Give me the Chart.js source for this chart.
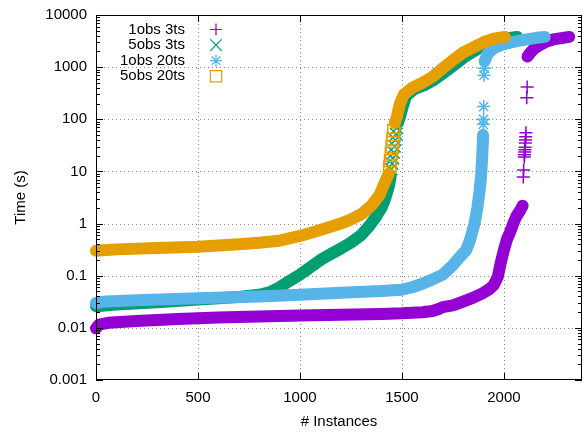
<!DOCTYPE html>
<html>
<head>
<meta charset="utf-8">
<script src="https://cdn.jsdelivr.net/npm/chart.js@4/dist/chart.umd.min.js"></script>
<style>
  body { margin: 0; background: #fff; }
  canvas { display: block; }
</style>
</head>
<body>
<canvas id="timeChart" width="584" height="433"></canvas>
<script>
// tick values and labels
const xTickValues = [0, 500, 1000, 1500, 2000];
const yTickValues = [0.001, 0.01, 0.1, 1, 10, 100, 1000, 10000];
const yTickLabels = ["0.001", "0.01", "0.1", "1", "10", "100", "1000", "10000"];
const seriesNames = ["1obs 3ts", "5obs 3ts", "1obs 20ts", "5obs 20ts"];

// 1obs 3ts (sorted runtimes)
const obs1ts3LowX = [0, 15, 60, 200, 400, 600, 800, 1000, 1200, 1400, 1500, 1600, 1650, 1680, 1700, 1750, 1800, 1850, 1900, 1930, 1950, 1970, 1985, 2000, 2015, 2030, 2045, 2060, 2080, 2092];
const obs1ts3LowY = [0.0098, 0.0115, 0.0125, 0.0135, 0.0148, 0.0158, 0.0165, 0.0172, 0.0178, 0.0185, 0.019, 0.020, 0.021, 0.023, 0.025, 0.027, 0.032, 0.038, 0.047, 0.056, 0.066, 0.095, 0.18, 0.31, 0.5, 0.68, 0.98, 1.35, 1.8, 2.2];
const obs1ts3PtX = [2095, 2097, 2100, 2101, 2102, 2103, 2104, 2105, 2106, 2107, 2108, 2112, 2114];
const obs1ts3PtY = [7.8, 10.7, 19, 21, 23.5, 26, 29, 35, 40, 46, 55, 260, 415];
const obs1ts3HiX = [2116, 2130, 2150, 2180, 2210, 2250, 2290, 2320];
const obs1ts3HiY = [1600, 1900, 2300, 2700, 3100, 3450, 3650, 3800];

// 5obs 3ts
const obs5ts3LowX = [0, 100, 300, 500, 700, 800, 850, 900, 950, 1000, 1050, 1100, 1150, 1200, 1250, 1300, 1340, 1370, 1400, 1420, 1435, 1445];
const obs5ts3LowY = [0.026, 0.028, 0.031, 0.035, 0.039, 0.043, 0.048, 0.06, 0.08, 0.105, 0.145, 0.2, 0.26, 0.33, 0.43, 0.6, 0.9, 1.3, 2.0, 3.2, 5, 8];
const obs5ts3PtX = [1448, 1452, 1456, 1460, 1464, 1468, 1472, 1476];
const obs5ts3PtY = [11, 14, 18, 23, 30, 40, 52, 68];
const obs5ts3HiX = [1480, 1490, 1505, 1520, 1560, 1610, 1660, 1700, 1750, 1800, 1850, 1900, 1950, 2000, 2065];
const obs5ts3HiY = [85, 110, 180, 280, 380, 450, 580, 750, 1050, 1500, 2000, 2600, 3100, 3500, 3800];

// 1obs 20ts
const obs1ts20LowX = [0, 50, 200, 500, 800, 1000, 1200, 1400, 1500, 1550, 1600, 1650, 1700, 1750, 1780, 1815, 1835, 1856, 1870, 1880, 1888, 1894, 1898];
const obs1ts20LowY = [0.030, 0.032, 0.034, 0.037, 0.040, 0.043, 0.047, 0.051, 0.054, 0.06, 0.07, 0.085, 0.105, 0.16, 0.22, 0.31, 0.5, 1.0, 2.0, 4.0, 8, 20, 50];
const obs1ts20PtX = [1899, 1900, 1901, 1903, 1904];
const obs1ts20PtY = [80, 100, 175, 700, 950];
const obs1ts20HiX = [1906, 1920, 1950, 1980, 2020, 2070, 2120, 2160, 2200];
const obs1ts20HiY = [1300, 1800, 2300, 2600, 2900, 3200, 3450, 3650, 3800];

// 5obs 20ts
const obs5ts20LowX = [0, 100, 300, 500, 700, 800, 900, 1000, 1100, 1200, 1250, 1300, 1350, 1390, 1415, 1435];
const obs5ts20LowY = [0.30, 0.32, 0.34, 0.36, 0.40, 0.43, 0.47, 0.58, 0.75, 1.0, 1.2, 1.5, 2.2, 3.5, 6, 9];
const obs5ts20PtX = [1440, 1444, 1448, 1452, 1456, 1460];
const obs5ts20PtY = [12, 16, 22, 30, 42, 60];
const obs5ts20HiX = [1465, 1475, 1490, 1510, 1550, 1600, 1650, 1700, 1750, 1800, 1850, 1900, 1950, 2005];
const obs5ts20HiY = [85, 110, 200, 300, 400, 500, 650, 950, 1350, 1900, 2400, 3000, 3500, 3800];

const colors = ["#9400d3", "#009e73", "#56b4e9", "#e69f00"];
const pointStyles = ["cross", "crossRot", "star", "rect"];
const pointRadii = [6.5, 8.5, 6.5, 8.5];

function pairs(xs, ys) {
  return xs.map((x, i) => ({ x: x, y: ys[i] }));
}

function band(xs, ys, idx, order) {
  return {
    data: pairs(xs, ys),
    showLine: true,
    borderColor: colors[idx],
    borderWidth: 12,
    borderJoinStyle: "round",
    borderCapStyle: "round",
    pointRadius: 0,
    clip: false,
    order: order
  };
}

function marks(xs, ys, idx, order) {
  return {
    data: pairs(xs, ys),
    showLine: false,
    pointStyle: pointStyles[idx],
    pointRadius: pointRadii[idx],
    pointBorderWidth: 1.5,
    pointBorderColor: colors[idx],
    pointBackgroundColor: "rgba(0,0,0,0)",
    clip: false,
    order: order
  };
}

const datasets = [
  band(obs1ts3LowX, obs1ts3LowY, 0, 12),
  marks(obs1ts3PtX, obs1ts3PtY, 0, 11),
  band(obs1ts3HiX, obs1ts3HiY, 0, 10),
  band(obs5ts3LowX, obs5ts3LowY, 1, 9),
  marks(obs5ts3PtX, obs5ts3PtY, 1, 8),
  band(obs5ts3HiX, obs5ts3HiY, 1, 7),
  band(obs1ts20LowX, obs1ts20LowY, 2, 6),
  marks(obs1ts20PtX, obs1ts20PtY, 2, 5),
  band(obs1ts20HiX, obs1ts20HiY, 2, 4),
  band(obs5ts20LowX, obs5ts20LowY, 3, 3),
  marks(obs5ts20PtX, obs5ts20PtY, 3, 2),
  band(obs5ts20HiX, obs5ts20HiY, 3, 1)
];

// gnuplot style dotted grid (slid under the data), border and inward tics
const frame = {
  id: "frame",
  afterDatasetsDraw(chart) {
    const ctx = chart.ctx;
    const a = chart.chartArea;
    const x = chart.scales.x, y = chart.scales.y;

    ctx.save();
    ctx.globalCompositeOperation = "destination-over";
    ctx.fillStyle = "#888888";
    xTickValues.slice(1).forEach(v => {
      const px = Math.round(x.getPixelForValue(v));
      for (let py = Math.round(a.bottom) - 4; py > a.top + 1; py -= 4) ctx.fillRect(px, py, 1, 1);
    });
    yTickValues.slice(1, -1).forEach(v => {
      const py = Math.round(y.getPixelForValue(v));
      for (let px = Math.round(a.left) + 4; px < a.right - 1; px += 4) ctx.fillRect(px, py, 1, 1);
    });
    ctx.restore();

    ctx.save();
    ctx.strokeStyle = "#000";
    ctx.lineWidth = 1;
    ctx.beginPath();
    xTickValues.forEach(v => {
      const px = Math.round(x.getPixelForValue(v)) + 0.5;
      ctx.moveTo(px, a.bottom); ctx.lineTo(px, a.bottom - 7);
      ctx.moveTo(px, a.top); ctx.lineTo(px, a.top + 7);
    });
    yTickValues.forEach((v, i) => {
      const py = Math.round(y.getPixelForValue(v)) + 0.5;
      ctx.moveTo(a.left, py); ctx.lineTo(a.left + 7, py);
      ctx.moveTo(a.right, py); ctx.lineTo(a.right - 7, py);
      if (i < yTickValues.length - 1) {
        for (let m = 2; m <= 9; m++) {
          const pm = Math.round(y.getPixelForValue(v * m)) + 0.5;
          ctx.moveTo(a.left, pm); ctx.lineTo(a.left + 4, pm);
          ctx.moveTo(a.right, pm); ctx.lineTo(a.right - 4, pm);
        }
      }
    });
    ctx.stroke();
    ctx.strokeRect(a.left + 0.5, a.top + 0.5, a.right - a.left - 1, a.bottom - a.top - 1);
    ctx.restore();
  }
};

// key in the top left corner, text right aligned, sample to its right
const key = {
  id: "key",
  afterDraw(chart) {
    const ctx = chart.ctx;
    ctx.save();
    ctx.font = '15px "Liberation Sans"';
    ctx.textAlign = "right";
    ctx.textBaseline = "middle";
    seriesNames.forEach((name, i) => {
      const ky = 29.5 + i * 15.6;
      ctx.fillStyle = "#000";
      ctx.fillText(name, 185, ky);
      ctx.strokeStyle = colors[i];
      ctx.fillStyle = "rgba(0,0,0,0)";
      ctx.lineWidth = 1.2;
      Chart.helpers.drawPoint(ctx, { pointStyle: pointStyles[i], radius: pointRadii[i] - 0.5, borderWidth: 1.2, rotation: 0 }, 216, ky);
    });
    ctx.restore();
  }
};

Chart.defaults.font.family = '"Liberation Sans", Arial, sans-serif';
Chart.defaults.font.size = 15;
Chart.defaults.color = "#000";

new Chart(document.getElementById("timeChart"), {
  type: "scatter",
  data: { datasets: datasets },
  options: {
    responsive: false,
    animation: false,
    events: [],
    layout: { autoPadding: false, padding: { left: 0, right: 2, top: 15, bottom: 0 } },
    plugins: { legend: { display: false }, tooltip: { enabled: false } },
    scales: {
      x: {
        type: "linear",
        min: 0,
        max: 2383,
        afterBuildTicks: s => { s.ticks = xTickValues.map(v => ({ value: v })); },
        afterFit: s => { s.height = 53; s.paddingLeft = 0; s.paddingRight = 0; },
        grid: { display: false, drawTicks: false },
        border: { display: false },
        ticks: { padding: 9, maxRotation: 0, autoSkip: false, callback: (v, i) => String(xTickValues[i]) },
        title: { display: true, text: "# Instances", padding: { top: 0, bottom: 2 } }
      },
      y: {
        type: "logarithmic",
        min: 0.001,
        max: 10000,
        afterBuildTicks: s => { s.ticks = yTickValues.map(v => ({ value: v })); },
        afterFit: s => { s.width = 96; s.paddingTop = 0; s.paddingBottom = 0; },
        grid: { display: false, drawTicks: false },
        border: { display: false },
        ticks: { padding: 9, autoSkip: false, callback: (v, i) => yTickLabels[i] },
        title: { display: true, text: "Time (s)", padding: { top: 12, bottom: 0 } }
      }
    }
  },
  plugins: [frame, key]
});
</script>
</body>
</html>
